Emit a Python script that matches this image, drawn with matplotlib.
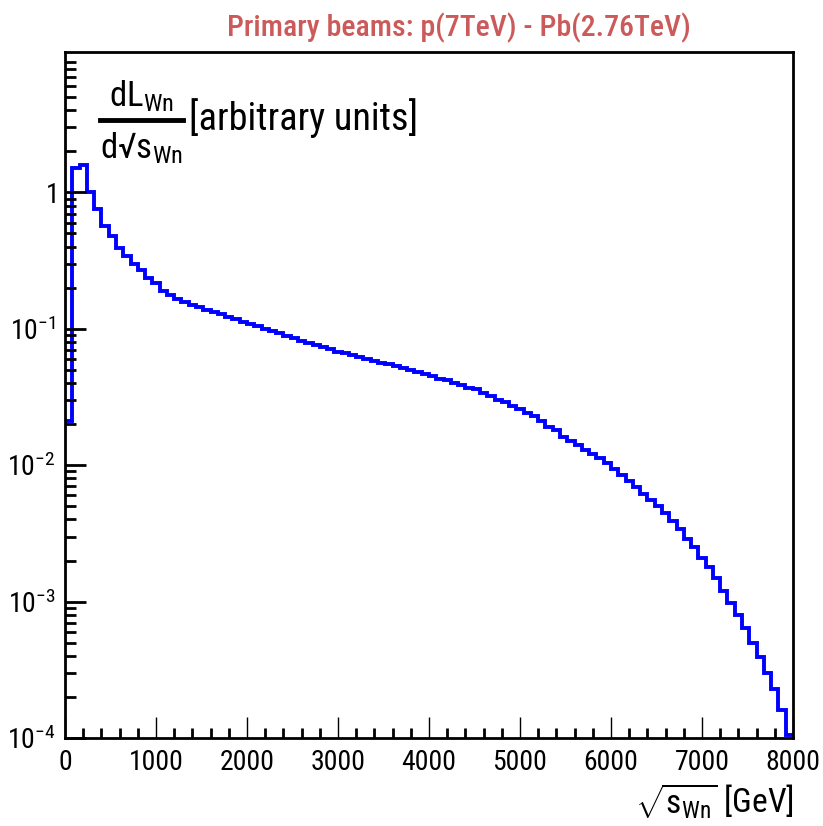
import matplotlib
matplotlib.use("Agg")
import matplotlib.pyplot as plt
import numpy as np
from matplotlib.lines import Line2D
from matplotlib.ticker import FixedLocator, FixedFormatter, MultipleLocator, LogLocator, NullFormatter
from matplotlib import font_manager as fm

# ---- data ----
bin_width_gev = 80
n_bins = 100
lumi = [
    0.021, 1.50, 1.60, 1.00, 0.76, 0.57, 0.48, 0.39, 0.34, 0.30,
    0.27, 0.235, 0.215, 0.19, 0.177, 0.166, 0.158, 0.150, 0.144, 0.138,
    0.133, 0.128, 0.123, 0.118, 0.113, 0.109, 0.104, 0.100, 0.096, 0.093,
    0.089, 0.086, 0.082, 0.079, 0.076, 0.074, 0.071, 0.068, 0.066, 0.064,
    0.062, 0.060, 0.058, 0.056, 0.055, 0.053, 0.052, 0.050, 0.048, 0.047,
    0.045, 0.043, 0.042, 0.040, 0.039, 0.037, 0.036, 0.034, 0.032, 0.030,
    0.029, 0.027, 0.026, 0.024, 0.023, 0.021, 0.019, 0.018, 0.016, 0.015,
    0.0140, 0.0130, 0.0120, 0.0112, 0.0104, 0.0094, 0.0085, 0.0077, 0.0069, 0.0062,
    0.0056, 0.0050, 0.0045, 0.0039, 0.0034, 0.0029, 0.0025, 0.0021, 0.0018, 0.0015,
    0.0012, 0.00098, 0.00080, 0.00064, 0.00050, 0.00039, 0.00030, 0.00023, 0.000160, 0.000105,
]
x_ticks = [0, 1000, 2000, 3000, 4000, 5000, 6000, 7000, 8000]
x_tick_labels = ["0", "1000", "2000", "3000", "4000", "5000", "6000", "7000", "8000"]
y_ticks = [1e-4, 1e-3, 1e-2, 1e-1, 1]
y_tick_labels = [r"$10^{-4}$", r"$10^{-3}$", r"$10^{-2}$", r"$10^{-1}$", r"$1$"]
title_text = "Primary beams: p(7TeV) - Pb(2.76TeV)"

# ---- fonts ----
names = {f.name for f in fm.fontManager.ttflist}
fam = "Liberation Sans"
for cand in ["Liberation Sans Narrow", "Arial Narrow", "Roboto Condensed"]:
    if cand in names:
        fam = cand
        break
plt.rcParams["font.family"] = [fam, "DejaVu Sans"]
plt.rcParams["mathtext.fontset"] = "custom"
plt.rcParams["mathtext.rm"] = fam
plt.rcParams["mathtext.it"] = fam
plt.rcParams["mathtext.bf"] = fam + ":bold"
plt.rcParams["mathtext.sf"] = fam

W, H = 823, 826
fig = plt.figure(figsize=(W / 100, H / 100), dpi=100)
L, R, T, B = 65, 793, 52, 738
ax = fig.add_axes([L / W, 1 - B / H, (R - L) / W, (B - T) / H])


def fx(px):
    return px / W


def fy(py):
    return 1 - py / H


edges = np.arange(n_bins + 1) * bin_width_gev
ax.stairs(lumi, edges, color="#0000ff", linewidth=2.8, baseline=None)

ax.set_yscale("log")
ax.set_xlim(0, 8000)
ax.set_ylim(1e-4, 10.7)

for s in ax.spines.values():
    s.set_linewidth(2.0)
    s.set_color("black")
    s.set_zorder(5)

ax.xaxis.set_major_locator(FixedLocator(x_ticks))
ax.xaxis.set_major_formatter(FixedFormatter(x_tick_labels))
ax.xaxis.set_minor_locator(MultipleLocator(200))
ax.yaxis.set_major_locator(FixedLocator(y_ticks))
ax.yaxis.set_major_formatter(FixedFormatter(y_tick_labels))
ax.yaxis.set_minor_locator(LogLocator(base=10, subs=np.arange(2, 10), numticks=20))
ax.yaxis.set_minor_formatter(NullFormatter())

ax.tick_params(axis="x", which="major", direction="in", length=15, width=1.0,
               labelsize=20, pad=8, top=False)
ax.tick_params(axis="x", which="minor", direction="in", length=7, width=2.0, top=False)
ax.tick_params(axis="y", which="major", direction="in", length=15, width=2.0,
               labelsize=20, pad=7, right=False)
ax.tick_params(axis="y", which="minor", direction="in", length=8, width=2.0, right=False)

# title
fig.text(fx(459), fy(28), title_text, ha="center", va="center",
         fontsize=21.5, color="#cc5a5a", fontweight="medium")

# y label (ROOT style fraction, inside top-left)
fig.text(fx(141), fy(96), r"dL$_{\mathrm{Wn}}$", ha="center", va="center", fontsize=25)
fig.add_artist(Line2D([fx(100), fx(183)], [fy(120), fy(120)], transform=fig.transFigure,
                      color="black", linewidth=3.5))
fig.text(fx(100), fy(148), r"d√s$_{\mathrm{Wn}}$", ha="left", va="center", fontsize=25)
fig.text(fx(189), fy(118), "[arbitrary units]", ha="left", va="center", fontsize=27.5)

# x label
fig.text(fx(794), fy(801), r"$\sqrt{\mathrm{s_{Wn}}}$ [GeV]", ha="right", va="center",
         fontsize=24)

fig.savefig("out.png", dpi=100, facecolor="white")
